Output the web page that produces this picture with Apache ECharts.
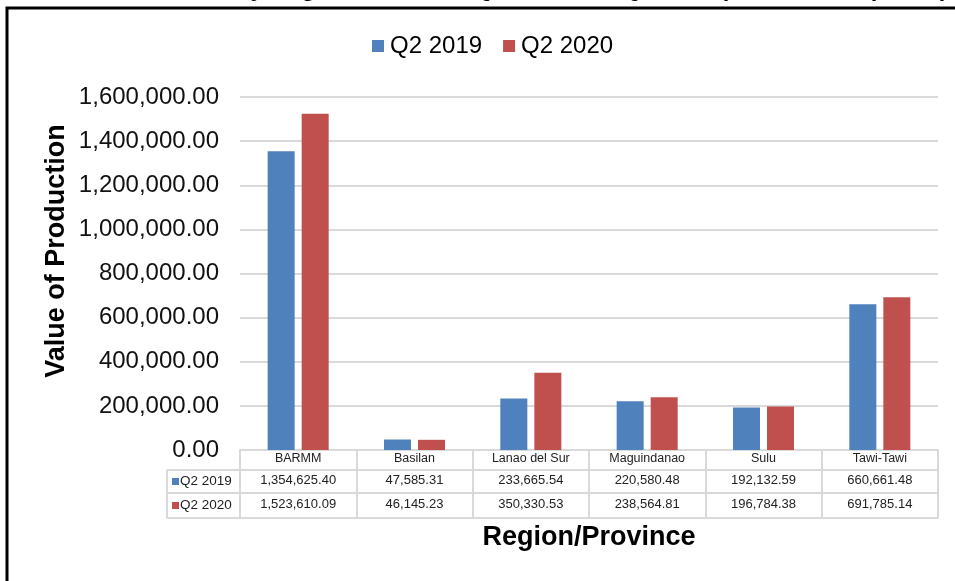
<!DOCTYPE html>
<html>
<head>
<meta charset="utf-8">
<script src="https://cdn.jsdelivr.net/npm/echarts@6/dist/echarts.min.js"></script>
<style>
  html, body { margin: 0; padding: 0; background: #fff; }
  #chart { width: 955px; height: 581px; }
</style>
</head>
<body>
<div id="chart"></div>
<script>
  // data
  var regions = ['BARMM', 'Basilan', 'Lanao del Sur', 'Maguindanao', 'Sulu', 'Tawi-Tawi'];
  var seriesNames = ['Q2 2019', 'Q2 2020'];
  var q2019 = [1354625.40, 47585.31, 233665.54, 220580.48, 192132.59, 660661.48];
  var q2020 = [1523610.09, 46145.23, 350330.53, 238564.81, 196784.38, 691785.14];
  var colors = ['#4f81bd', '#c0504d'];

  var font = '"Liberation Sans", Arial, sans-serif';

  function fmt(v) {
    return v.toLocaleString('en-US', { minimumFractionDigits: 2, maximumFractionDigits: 2 });
  }

  // layout of the grid (pixels)
  var gLeft = 240, gRight = 17, gTop = 97, gBottom = 131;
  var axisY = 581 - gBottom;
  var rowLines = [axisY + 20, axisY + 43, axisY + 68];

  var myChart = echarts.init(document.getElementById('chart'));

  // frame, cut-off title, axis titles, table lines + row headers
  var graphics = [];
  graphics.push({
    type: 'rect', silent: true,
    shape: { x: 7, y: 8, width: 980, height: 620 },
    style: { fill: 'none', stroke: '#000', lineWidth: 3 }
  });
  graphics.push({
    type: 'text', silent: true,
    x: 948, y: 1,
    style: {
      text: 'Value of Production, by Region/Province, Q2 2019 and Q2 2020 (in thousand pesos)',
      font: 'bold 24px ' + font, fill: '#000', align: 'right', verticalAlign: 'bottom'
    }
  });
  rowLines.forEach(function (y) {
    graphics.push({
      type: 'line', silent: true,
      shape: { x1: 167, y1: y, x2: 955 - gRight, y2: y },
      style: { stroke: '#d9d9d9', lineWidth: 2 }
    });
  });
  graphics.push({
    type: 'line', silent: true,
    shape: { x1: 167, y1: rowLines[0], x2: 167, y2: rowLines[2] },
    style: { stroke: '#d9d9d9', lineWidth: 2 }
  });
  seriesNames.forEach(function (name, i) {
    var cy = (rowLines[i] + rowLines[i + 1]) / 2;
    graphics.push({
      type: 'rect', silent: true,
      shape: { x: 172, y: cy - 3.5, width: 7, height: 7 },
      style: { fill: colors[i] }
    });
    graphics.push({
      type: 'text', silent: true,
      x: 180, y: cy,
      style: { text: name, font: '13.5px ' + font, fill: '#222', verticalAlign: 'middle' }
    });
  });
  graphics.push({
    type: 'text', silent: true,
    x: 589, y: 538,
    style: {
      text: 'Region/Province', font: 'bold 27px ' + font, fill: '#000',
      align: 'center', verticalAlign: 'middle'
    }
  });
  graphics.push({
    type: 'text', silent: true,
    x: 57, y: 251, rotation: Math.PI / 2,
    style: {
      text: 'Value of Production', font: 'bold 27px ' + font, fill: '#000',
      align: 'center', verticalAlign: 'middle'
    }
  });

  var option = {
    animation: false,
    color: colors,
    textStyle: { fontFamily: font },
    legend: {
      top: 29,
      left: 367,
      itemWidth: 12,
      itemHeight: 12,
      itemGap: 21,
      icon: 'rect',
      textStyle: { fontSize: 24, color: '#000', padding: [0, 0, 0, 1] },
      data: seriesNames
    },
    grid: { left: gLeft, right: gRight, top: gTop, bottom: gBottom, containLabel: false },
    xAxis: {
      type: 'category',
      data: regions,
      axisLine: { show: true, lineStyle: { color: '#d9d9d9', width: 2 } },
      axisTick: { show: true, interval: 0, length: 68, lineStyle: { color: '#d9d9d9', width: 2 } },
      axisLabel: {
        interval: 0,
        margin: 0,
        formatter: function (val, idx) {
          return '{h|' + val + '}\n{v|' + fmt(q2019[idx]) + '}\n{v|' + fmt(q2020[idx]) + '}';
        },
        rich: {
          h: { fontSize: 12.5, lineHeight: 18, color: '#222' },
          v: { fontSize: 13, lineHeight: 24, color: '#222' }
        }
      }
    },
    yAxis: {
      type: 'value',
      min: 0,
      max: 1600000,
      interval: 200000,
      axisLine: { show: false },
      axisTick: { show: false },
      axisLabel: {
        margin: 21,
        fontSize: 24,
        color: '#111',
        formatter: function (v) { return fmt(v); }
      },
      splitLine: { lineStyle: { color: '#d9d9d9', width: 2 } }
    },
    series: [
      { name: seriesNames[0], type: 'bar', data: q2019, barWidth: 27, barGap: '26%' },
      { name: seriesNames[1], type: 'bar', data: q2020, barWidth: 27, barGap: '26%' }
    ],
    graphic: graphics
  };

  myChart.setOption(option);
</script>
</body>
</html>
